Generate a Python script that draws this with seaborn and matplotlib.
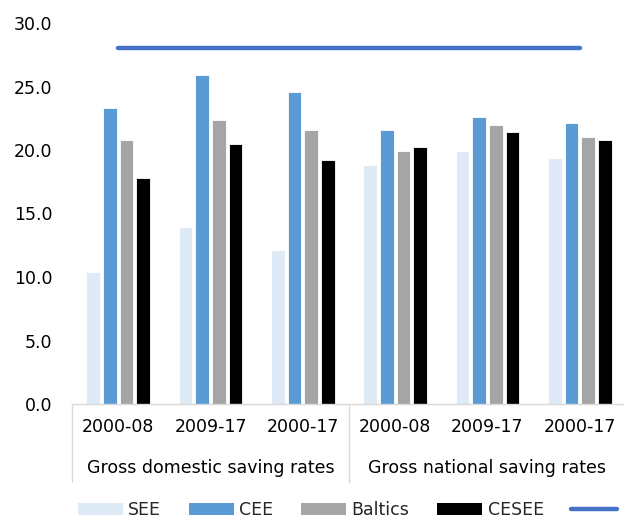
import matplotlib
matplotlib.use("Agg")
import matplotlib.pyplot as plt
import seaborn as sns
import pandas as pd
from matplotlib.lines import Line2D

periods = ["2000-08", "2009-17", "2000-17", "2000-08", "2009-17", "2000-17"]
groups = ["Gross domestic saving rates", "Gross national saving rates"]
series_names = ["SEE", "CEE", "Baltics", "CESEE"]
see = [10.4, 13.9, 12.1, 18.8, 19.9, 19.4]
cee = [23.3, 25.9, 24.6, 21.6, 22.6, 22.1]
baltics = [20.8, 22.4, 21.6, 19.9, 22.0, 21.0]
cesee = [17.8, 20.5, 19.2, 20.2, 21.4, 20.8]
line_vals = [28.0, 28.0, 28.0, 28.0, 28.0, 28.0]
yticks = [0, 5, 10, 15, 20, 25, 30]

colors = {"SEE": "#DEEBF7", "CEE": "#5B9BD5", "Baltics": "#A5A5A5", "CESEE": "#000000"}
line_color = "#4472C4"

sns.set_theme(style="white")
plt.rcParams["font.family"] = ["DejaVu Sans"]

cat_ids = [f"c{i}" for i in range(len(periods))]
rows = []
for name, vals in zip(series_names, [see, cee, baltics, cesee]):
    for cid, v in zip(cat_ids, vals):
        rows.append({"cat": cid, "series": name, "value": v})
df = pd.DataFrame(rows)

fig = plt.figure(figsize=(6.24, 5.19), dpi=100)
ax = fig.add_axes([72 / 624, 1 - 404 / 519, (626 - 72) / 624, (404 - 23) / 519])

sns.barplot(data=df, x="cat", y="value", hue="series", order=cat_ids,
            hue_order=series_names, palette=colors, saturation=1, width=0.72, gap=0.18,
            edgecolor="white", linewidth=0.6, ax=ax, legend=False)

line_df = pd.DataFrame({"x": list(range(len(periods))), "y": line_vals})
sns.lineplot(data=line_df, x="x", y="y", color=line_color, linewidth=3.2,
             solid_capstyle="round", ax=ax, legend=False)

ax.set_xlim(-0.5, len(periods) - 0.5)
ax.set_ylim(0, 30)
ax.set_yticks(yticks)
ax.set_yticklabels([f"{t:.1f}" for t in yticks], fontsize=12.5, color="#000000")
ax.tick_params(axis="y", length=0, pad=14)
ax.set_xticks(range(len(periods)))
ax.set_xticklabels(periods, fontsize=12.5, color="#000000")
ax.tick_params(axis="x", length=0, pad=10)
ax.set_xlabel("")
ax.set_ylabel("")
for s in ["left", "right", "top"]:
    ax.spines[s].set_visible(False)
ax.spines["bottom"].set_color("#D9D9D9")
ax.spines["bottom"].set_linewidth(1.0)

# multi-level category axis: separators and group labels
trans = ax.get_xaxis_transform()
y_bottom = -(482 - 404) / (404 - 23)
for xpos in [-0.5, 2.5, 5.5]:
    ax.plot([xpos, xpos], [0, y_bottom], transform=trans, color="#D9D9D9",
            linewidth=1.0, clip_on=False)
y_group = -(468 - 404) / (404 - 23)
for gi, g in enumerate(groups):
    ax.text(1 + 3 * gi, y_group, g, transform=trans, ha="center", va="center",
            fontsize=12.5, color="#000000")

handles = [plt.Rectangle((0, 0), 1, 1, facecolor=colors[n], edgecolor="none") for n in series_names]
handles.append(Line2D([0], [0], color=line_color, linewidth=3.2, solid_capstyle="round"))
labels = series_names + [" "]
fig.legend(handles, labels, loc="center", bbox_to_anchor=(0.565, 1 - 510 / 519),
           ncol=5, frameon=False, fontsize=12.5, handlelength=2.6, handleheight=0.75,
           handletextpad=0.3, columnspacing=1.6, borderaxespad=0, borderpad=0.1)

fig.savefig("out.png", dpi=100)
